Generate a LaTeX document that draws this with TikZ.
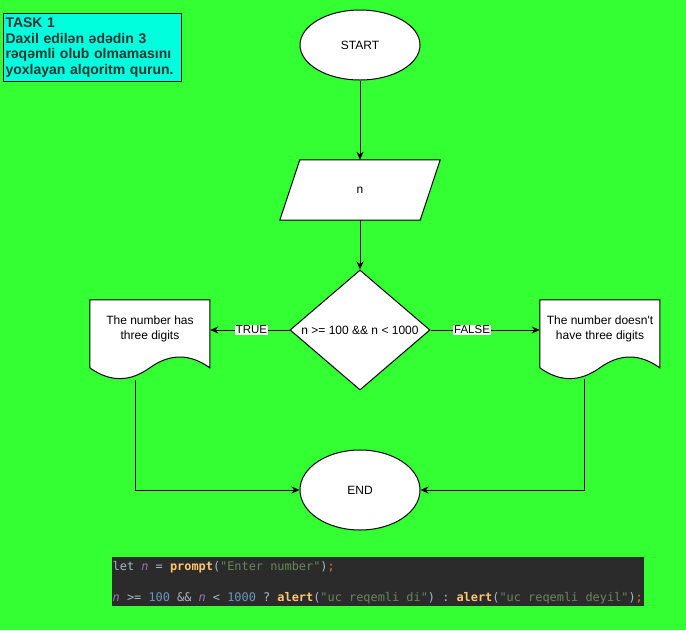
\documentclass[tikz,border=0pt]{standalone}
\usepackage{fontspec}
\setmainfont{Liberation Sans}[Ligatures=TeXOff]
\newfontfamily\codefont{DejaVu Sans Mono}[Ligatures=TeXOff]
\usepackage{xcolor}
\usepackage{tikz}
\usetikzlibrary{shapes,arrows,positioning,calc,arrows.meta}
\pgfdeclarelayer{back}
\pgfsetlayers{back,main}

\definecolor{bggreen}{HTML}{33FF33}
\definecolor{taskcyan}{HTML}{00FFDD}
\definecolor{taskgray}{HTML}{333333}
\definecolor{codebg}{HTML}{2B2B2B}
\definecolor{codeplain}{HTML}{A9B7C6}
\definecolor{codevar}{HTML}{9876AA}
\definecolor{codefn}{HTML}{FFC66D}
\definecolor{codestr}{HTML}{6A8759}
\definecolor{codesemi}{HTML}{CC7832}
\definecolor{codenum}{HTML}{6897BB}

% document shape, drawn round a docbox node
\newcommand{\docoutline}[1]{%
  \draw[shapeline,shift={(#1.north west)}] (0,0) -- (120,0) -- (120,68)
    .. controls (100,53.6) and (80,53.6) .. (60,68)
    .. controls (40,82.4) and (20,82.4) .. (0,68) -- cycle;}
% fixed spaces for the code lines
\newcommand{\monospaces}{\spaceskip=7.164pt\relax\xspaceskip=7.164pt\relax}

\begin{document}
\begin{tikzpicture}[x=1pt,y=-1pt,
    every node/.style={font=\fontsize{12}{15}\selectfont},
    shapeline/.style={draw=black,fill=white,line width=1pt},
    term/.style={ellipse,shapeline,minimum width=120pt,inner sep=0pt},
    iobox/.style={minimum width=160pt,minimum height=60pt,inner sep=0pt},
    decision/.style={diamond,shapeline,minimum width=140pt,minimum height=120pt,
        inner sep=0pt,shape aspect=1.1667},
    docbox/.style={minimum width=120pt,minimum height=57pt,inner sep=0pt,align=center},
    flow/.style={draw=black,line width=1pt,-{Stealth[length=8pt,width=7pt,inset=2.5pt]}},
    edgelabel/.style={fill=white,inner xsep=1pt,inner ysep=0.5pt,
        font=\fontsize{11.5}{13}\selectfont},
    taskbox/.style={draw=black,line width=1pt,fill=taskcyan,text=taskgray,
        text width=174pt,inner xsep=2pt,inner ysep=3pt,minimum height=68pt,align=left,
        font=\fontsize{14}{15.7}\selectfont\bfseries},
    codebox/.style={fill=codebg,text=codeplain,text width=531pt,inner xsep=0.5pt,
        inner ysep=2pt,minimum height=47pt,align=left,
        font=\codefont\fontsize{11.9}{15.75}\selectfont}]
  \useasboundingbox (0,0) rectangle (686,630);

  \node[taskbox,anchor=north west] (task) at (3,13)
    {TASK 1\\Daxil edilən ədədin 3\\rəqəmli olub olmamasını\\yoxlayan alqoritm qurun.};

  \node[term,minimum height=70pt] (start) at (360,45) {START};
  \node[iobox] (inp) at (360,190) {n};
  \node[decision] (dec) at (360,330) {n >= 100 \&\& n < 1000};
  \node[docbox] (ldoc) at (150,328.5) {The number has\\three digits};
  \node[docbox] (rdoc) at (600,328.5) {The number doesn't\\have three digits};
  \node[term,minimum height=80pt] (stop) at (360,490) {END};

  \begin{pgfonlayer}{back}
    \fill[bggreen] (0,0) rectangle (686,630);
    \draw[shapeline] ([xshift=20pt]inp.north west) -- (inp.north east)
      -- ([xshift=-20pt]inp.south east) -- (inp.south west) -- cycle;
    \docoutline{ldoc}
    \docoutline{rdoc}
  \end{pgfonlayer}

  \draw[flow] (start) -- (inp);
  \draw[flow] (inp) -- (dec);
  \draw[flow] (dec.west) -- (dec.west -| ldoc.east) node[edgelabel,pos=0.48] {TRUE};
  \draw[flow] (dec.east) -- (dec.east -| rdoc.west) node[edgelabel,pos=0.38] {FALSE};
  \draw[flow] ([xshift=-15pt,yshift=-23pt]ldoc.south) |- (stop);
  \draw[flow] ([xshift=-16pt,yshift=-22pt]rdoc.south) |- (stop);

  \node[codebox,anchor=north west] (code) at (112,557)
    {\monospaces\rule{0pt}{11pt}let {\color{codevar}\itshape n} = {\color{codefn}\bfseries prompt}({\color{codestr}"Enter number"}){\color{codesemi};}\\[15.75pt]
     {\color{codevar}\itshape n} >= {\color{codenum}100} \&\& {\color{codevar}\itshape n} < {\color{codenum}1000} ? {\color{codefn}\bfseries alert}({\color{codestr}"uc reqemli di"}) : {\color{codefn}\bfseries alert}({\color{codestr}"uc reqemli deyil"}){\color{codesemi};}};
\end{tikzpicture}
\end{document}
